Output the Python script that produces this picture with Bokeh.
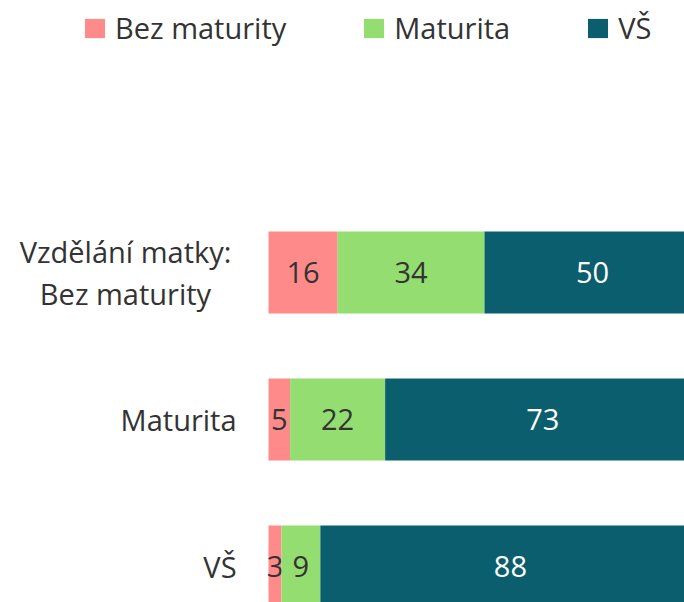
from bokeh.plotting import figure
from bokeh.models import ColumnDataSource, Range1d, Legend, LegendItem
from bokeh.core.properties import value
from bokeh.embed import file_html
from bokeh.resources import INLINE

categories = ["Vzdělání matky:\nBez maturity", "Maturita", "VŠ"]
series = ["Bez maturity", "Maturita", "VŠ"]
bez_maturity = [16, 5, 3]
maturita = [34, 22, 9]
vs = [50, 73, 88]
colors = ["#FF8A8A", "#93DD71", "#0B5E6D"]
label_colors = ["#333333", "#333333", "#FFFFFF"]

FONT = "Open Sans"
FS = "29px"

p = figure(width=684, height=602, output_backend="svg", toolbar_location=None,
           x_range=Range1d(-62.04, 96.30), y_range=Range1d(-0.245, 3.850),
           min_border_left=0, min_border_right=0, min_border_top=0, min_border_bottom=0)
p.axis.visible = False
p.grid.visible = False
p.outline_line_color = None
p.background_fill_color = "white"

ypos = [len(categories) - 1 - i for i in range(len(categories))]
vals = [bez_maturity, maturita, vs]
renderers = []
left = [0] * len(categories)
for s, v, c, lc in zip(series, vals, colors, label_colors):
    right = [l + x for l, x in zip(left, v)]
    src = ColumnDataSource(dict(y=ypos, left=left, right=right,
                                mid=[(l + r) / 2 for l, r in zip(left, right)],
                                txt=[str(x) for x in v]))
    r = p.hbar(y="y", left="left", right="right", height=0.558, source=src,
               fill_color=c, line_color=None)
    renderers.append(r)
    p.text(x="mid", y="y", text="txt", source=src, text_align="center",
           text_baseline="middle", text_color=lc, text_font=value(FONT),
           text_font_size=FS)
    left = right

# category labels
single = [(c, y) for c, y in zip(categories, ypos) if "\n" not in c]
multi = [(c, y) for c, y in zip(categories, ypos) if "\n" in c]
p.text(x=[-7.4] * len(single), y=[y for _, y in single], text=[c for c, _ in single],
       text_align="right", text_baseline="middle", text_color="#333333",
       text_font=value(FONT), text_font_size=FS)
p.text(x=[-33.1] * len(multi), y=[y for _, y in multi], text=[c for c, _ in multi],
       text_align="center", text_baseline="middle", text_color="#333333",
       text_font=value(FONT), text_font_size=FS, text_line_height=1.1)

legend = Legend(items=[LegendItem(label=s, renderers=[r]) for s, r in zip(series, renderers)],
                orientation="horizontal", location=(82, 555),
                glyph_width=25, glyph_height=24, label_standoff=8, spacing=75,
                padding=0, margin=0, border_line_color=None, background_fill_alpha=0,
                label_text_font=FONT, label_text_font_size=FS, label_text_color="#333333")
p.add_layout(legend)

open("out.html", "w").write(file_html(p, INLINE))
